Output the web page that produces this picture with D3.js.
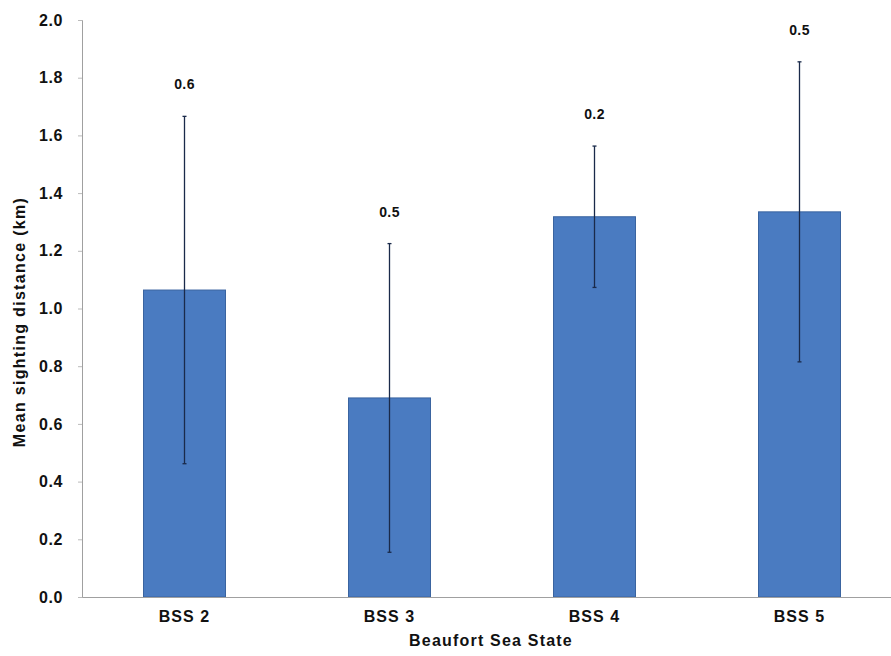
<!DOCTYPE html>
<html><head><meta charset="utf-8">
<script src="https://cdn.jsdelivr.net/npm/d3@7"></script>
<style>body{margin:0;background:#fff}svg{display:block}text{font-family:Arial,"Liberation Sans",sans-serif;font-weight:bold;fill:#111}</style>
</head><body>
<svg id="c" width="891" height="656"></svg>
<script>
const categories = ["BSS 2","BSS 3","BSS 4","BSS 5"];
const means = [1.064, 0.690, 1.318, 1.335];
const sds = [0.602, 0.535, 0.245, 0.52];
const sdLabels = ["0.6","0.5","0.2","0.5"];
const yTicks = [0,0.2,0.4,0.6,0.8,1.0,1.2,1.4,1.6,1.8,2.0];

const svg = d3.select("#c");
const m = {left:82, top:20, right:902, bottom:597};
const x = d3.scaleBand().domain(categories).range([m.left, m.right]).paddingInner(0.6).paddingOuter(0.3);
const y = d3.scaleLinear().domain([0,2]).range([m.bottom, m.top]);

// y axis
const ya = svg.append("g").attr("transform",`translate(${m.left},0)`)
  .call(d3.axisLeft(y).tickValues(yTicks).tickFormat(d3.format(".1f")).tickSize(4).tickPadding(15));
ya.select(".domain").attr("stroke","#a0a0a0");
ya.selectAll(".tick line").attr("stroke","#bbb");
ya.selectAll(".tick text").attr("font-size",16).attr("letter-spacing","0.6px").attr("font-weight","bold").attr("fill","#111");

// bars
svg.selectAll("rect.bar").data(categories).join("rect").attr("class","bar")
  .attr("x",d=>x(d)).attr("width",x.bandwidth())
  .attr("y",(d,i)=>y(means[i])).attr("height",(d,i)=>y(0)-y(means[i]))
  .attr("fill","#4a7bc1").attr("stroke","#3a64a0").attr("stroke-width",1);

// x axis
const xa = svg.append("g").attr("transform",`translate(0,${m.bottom})`)
  .call(d3.axisBottom(x).tickSize(0).tickPadding(14));
xa.select(".domain").attr("stroke","#a0a0a0");
xa.selectAll(".tick text").attr("font-size",16).attr("letter-spacing","1.1px").attr("font-weight","bold").attr("fill","#111");

// error bars
const eb = svg.selectAll("g.err").data(categories).join("g").attr("class","err");
eb.append("line").attr("x1",d=>x(d)+x.bandwidth()/2).attr("x2",d=>x(d)+x.bandwidth()/2)
  .attr("y1",(d,i)=>y(means[i]+sds[i])).attr("y2",(d,i)=>y(means[i]-sds[i]))
  .attr("stroke","#1a2a4a").attr("stroke-width",1.3);
[1,-1].forEach(s=>{
  eb.append("line").attr("x1",d=>x(d)+x.bandwidth()/2-2).attr("x2",d=>x(d)+x.bandwidth()/2+2)
    .attr("y1",(d,i)=>y(means[i]+s*sds[i])).attr("y2",(d,i)=>y(means[i]+s*sds[i]))
    .attr("stroke","#1a2a4a").attr("stroke-width",1.3);
});
eb.append("text").attr("x",d=>x(d)+x.bandwidth()/2)
  .attr("y",(d,i)=>y(means[i]+sds[i])-27).attr("text-anchor","middle")
  .attr("font-size",14).attr("letter-spacing","0.4px").text((d,i)=>sdLabels[i]);

// axis titles
svg.append("text").attr("x",491).attr("y",646).attr("text-anchor","middle")
  .attr("font-size",16).attr("letter-spacing","1.2px").text("Beaufort Sea State");
svg.append("text").attr("transform",`translate(25,322) rotate(-90)`)
  .attr("text-anchor","middle").attr("font-size",16).attr("letter-spacing","1.3px").text("Mean sighting distance (km)");
</script>
</body></html>
